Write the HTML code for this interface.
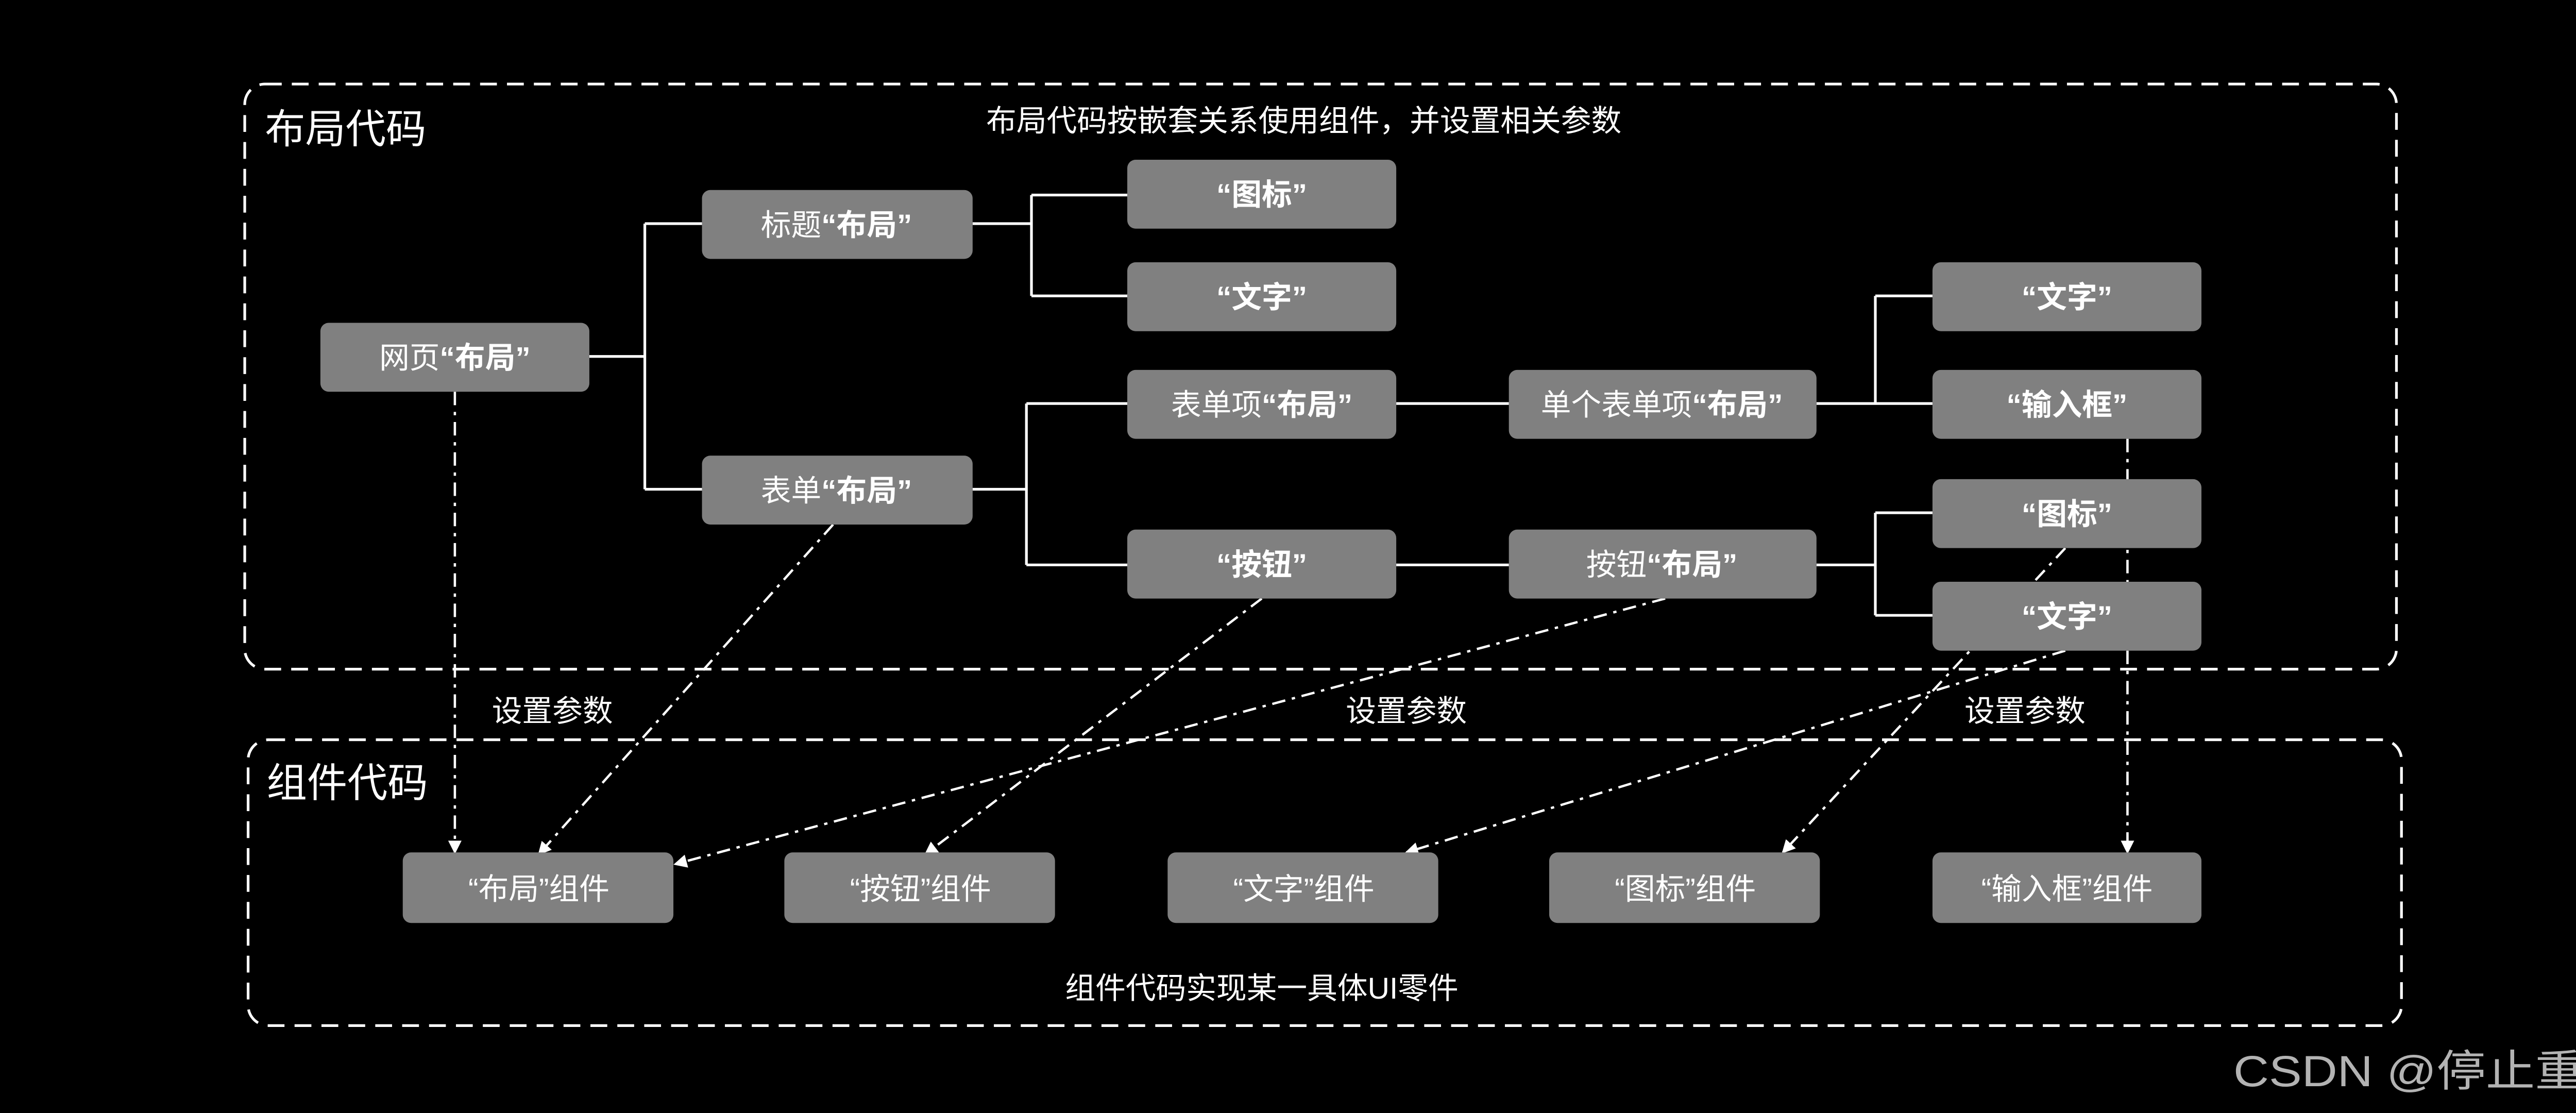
<!DOCTYPE html>
<html><head><meta charset="utf-8"><style>
html,body{margin:0;padding:0;background:#000;}
svg{display:block;}
text{font-family:"Liberation Sans","Noto Sans CJK SC",sans-serif;fill:#fff;}
</style></head><body>
<svg width="5120" height="2160" viewBox="0 0 1568 662" xmlns="http://www.w3.org/2000/svg">
<defs>
<marker id="a" markerWidth="8" markerHeight="8" refX="7" refY="4" orient="auto" markerUnits="userSpaceOnUse">
<path d="M0,0 L8,4 L0,8 Z" fill="#fff"/></marker>
</defs>
<rect width="1568" height="662" fill="#000"/>
<rect x="145" y="50" width="1280" height="348" rx="12" fill="none" stroke="#fff" stroke-width="1.6" stroke-dasharray="10,6"/>
<rect x="147" y="440" width="1281" height="170" rx="12" fill="none" stroke="#fff" stroke-width="1.6" stroke-dasharray="10,6"/>
<text x="157" y="85" font-size="24">布局代码</text>
<text x="775" y="78" font-size="18" text-anchor="middle">布局代码按嵌套关系使用组件，并设置相关参数</text>
<text x="158" y="474" font-size="24">组件代码</text>
<text x="750" y="594" font-size="18" text-anchor="middle">组件代码实现某一具体UI零件</text>
<g stroke="#fff" stroke-width="1.6" fill="none">
<path d="M350,212 H383 M383,133 V291 M383,133 H417 M383,291 H417"/>
<path d="M578,133 H613 M613,116 V176 M613,116 H670 M613,176 H670"/>
<path d="M578,291 H610 M610,240 V336 M610,240 H670 M610,336 H670"/>
<path d="M830,240 H897 M830,336 H897"/>
<path d="M1080,240 H1115 M1115,176 V240 M1115,176 H1149 M1115,240 H1149"/>
<path d="M1080,336 H1115 M1115,305 V366 M1115,305 H1149 M1115,366 H1149"/>
</g>
<g stroke="#fff" stroke-width="1.4" fill="none" stroke-dasharray="8,4,2,4" marker-end="url(#a)">
<path d="M270,233 L270,507"/>
<path d="M495,312 L320,508"/>
<path d="M750,356 L550,508"/>
<path d="M990,356 L401,514"/>
<path d="M1228,326 L1060,507"/>
<path d="M1228,387 L836,507"/>
<path d="M1265,261 L1265,507"/>
</g>
<text x="328" y="429" font-size="18" text-anchor="middle">设置参数</text>
<text x="836" y="429" font-size="18" text-anchor="middle">设置参数</text>
<text x="1204" y="429" font-size="18" text-anchor="middle">设置参数</text>
<g fill="#808080">
<rect x="190" y="192" width="160" height="41" rx="5"/>
<rect x="417" y="113" width="161" height="41" rx="5"/>
<rect x="670" y="95" width="160" height="41" rx="5"/>
<rect x="670" y="156" width="160" height="41" rx="5"/>
<rect x="417" y="271" width="161" height="41" rx="5"/>
<rect x="670" y="220" width="160" height="41" rx="5"/>
<rect x="670" y="315" width="160" height="41" rx="5"/>
<rect x="897" y="220" width="183" height="41" rx="5"/>
<rect x="897" y="315" width="183" height="41" rx="5"/>
<rect x="1149" y="156" width="160" height="41" rx="5"/>
<rect x="1149" y="220" width="160" height="41" rx="5"/>
<rect x="1149" y="285" width="160" height="41" rx="5"/>
<rect x="1149" y="346" width="160" height="41" rx="5"/>
<rect x="239" y="507" width="161" height="42" rx="5"/>
<rect x="466" y="507" width="161" height="42" rx="5"/>
<rect x="694" y="507" width="161" height="42" rx="5"/>
<rect x="921" y="507" width="161" height="42" rx="5"/>
<rect x="1149" y="507" width="160" height="42" rx="5"/>
</g>
<g font-size="18" text-anchor="middle">
<text x="270" y="219">网页<tspan font-weight="bold">“布局”</tspan></text>
<text x="497" y="140">标题<tspan font-weight="bold">“布局”</tspan></text>
<text x="750" y="122" font-weight="bold">“图标”</text>
<text x="750" y="183" font-weight="bold">“文字”</text>
<text x="497" y="298">表单<tspan font-weight="bold">“布局”</tspan></text>
<text x="750" y="247">表单项<tspan font-weight="bold">“布局”</tspan></text>
<text x="750" y="342" font-weight="bold">“按钮”</text>
<text x="988" y="247">单个表单项<tspan font-weight="bold">“布局”</tspan></text>
<text x="988" y="342">按钮<tspan font-weight="bold">“布局”</tspan></text>
<text x="1229" y="183" font-weight="bold">“文字”</text>
<text x="1229" y="247" font-weight="bold">“输入框”</text>
<text x="1229" y="312" font-weight="bold">“图标”</text>
<text x="1229" y="373" font-weight="bold">“文字”</text>
<text x="320" y="535">“布局”组件</text>
<text x="547" y="535">“按钮”组件</text>
<text x="775" y="535">“文字”组件</text>
<text x="1002" y="535">“图标”组件</text>
<text x="1229" y="535">“输入框”组件</text>
</g>
<text x="1328" y="646" font-size="26" textLength="238" lengthAdjust="spacingAndGlyphs" style="fill:#b3b3b3">CSDN @停止重构</text>
</svg>
</body></html>
